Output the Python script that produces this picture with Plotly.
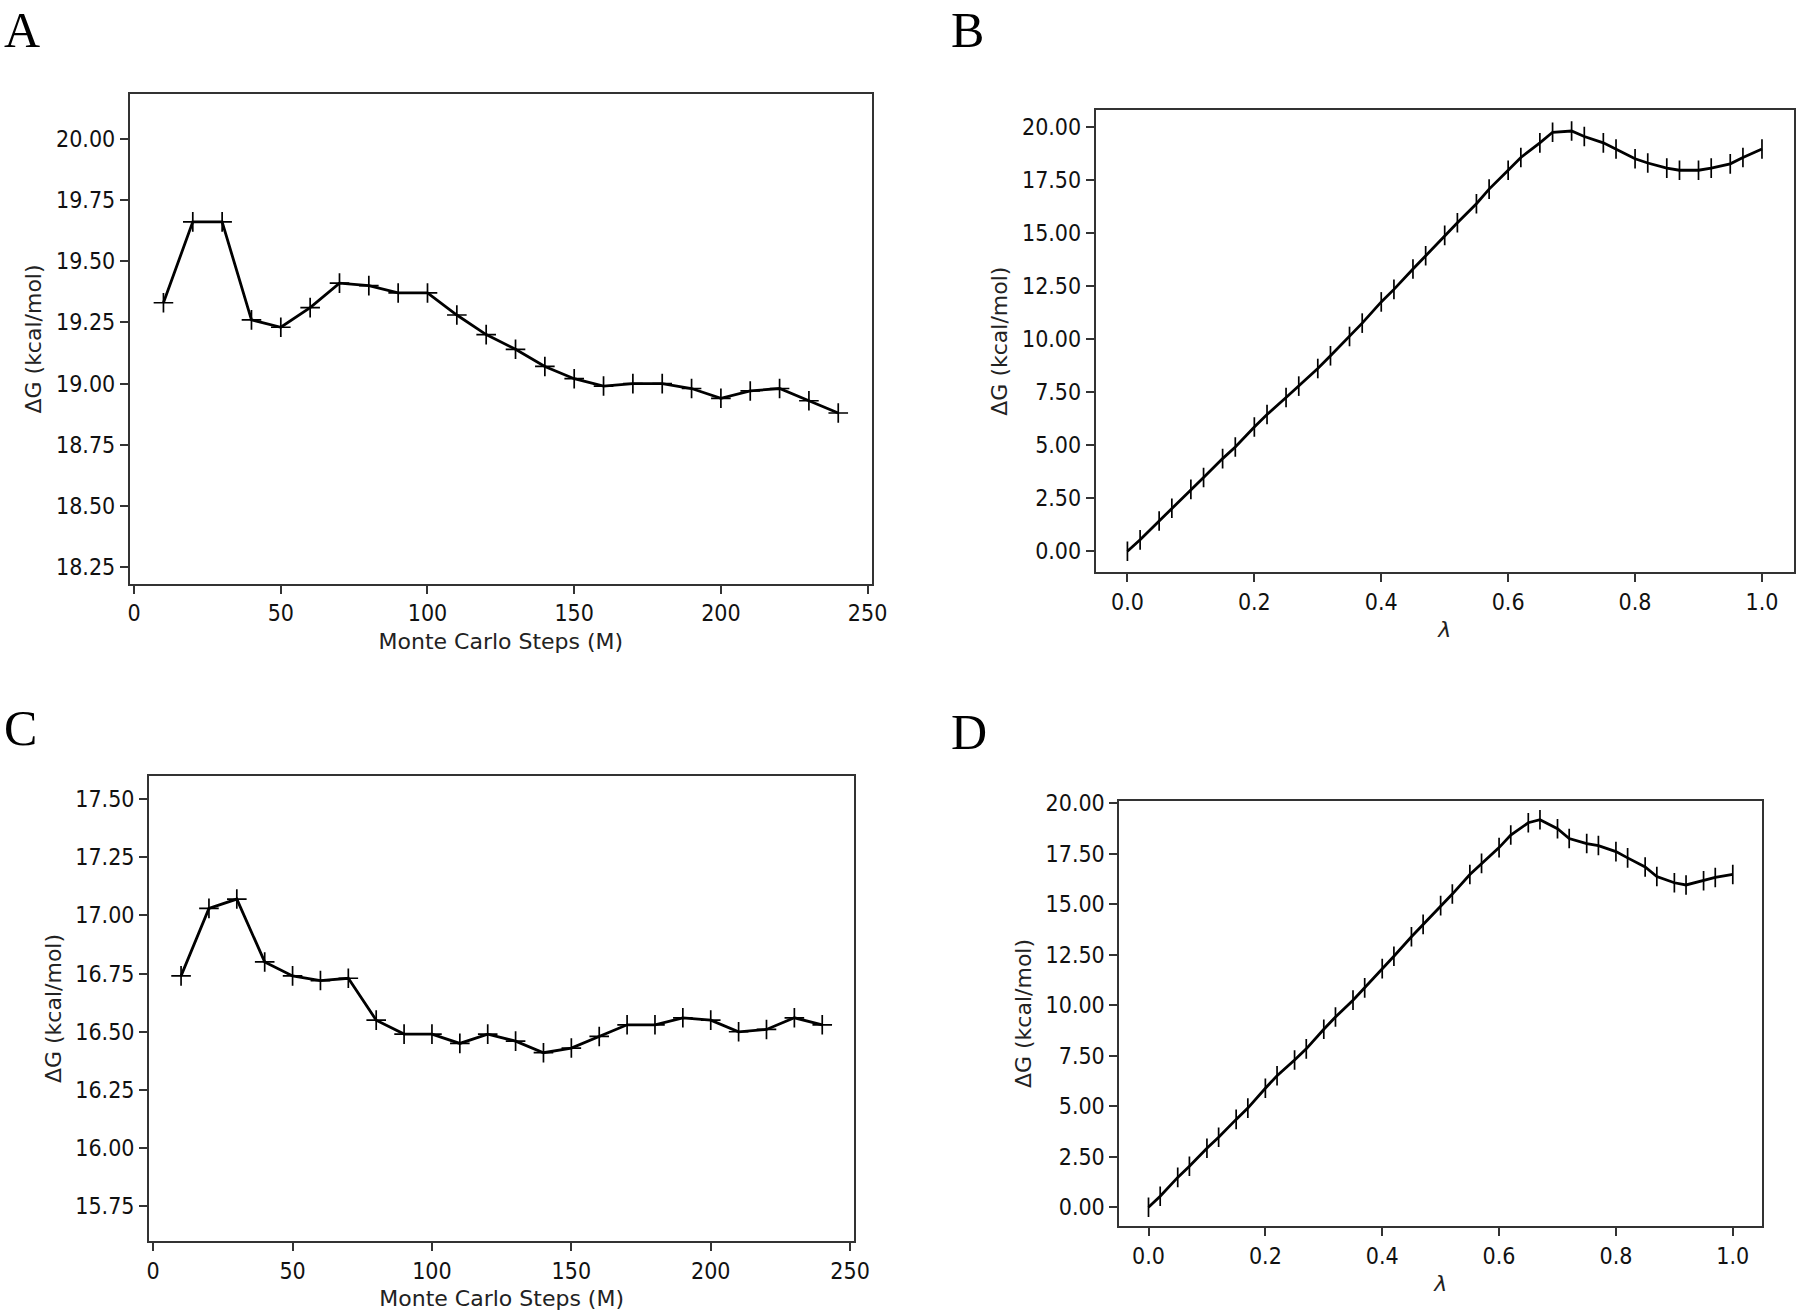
import plotly.graph_objects as go

# ---------------- data ----------------
mc_steps = [10, 20, 30, 40, 50, 60, 70, 80, 90, 100, 110, 120,
            130, 140, 150, 160, 170, 180, 190, 200, 210, 220, 230, 240]
dg_a = [19.33, 19.66, 19.66, 19.26, 19.23, 19.31, 19.41, 19.40, 19.37, 19.37, 19.28, 19.20,
        19.14, 19.07, 19.02, 18.99, 19.00, 19.00, 18.98, 18.94, 18.97, 18.98, 18.93, 18.88]
dg_c = [16.74, 17.03, 17.07, 16.80, 16.74, 16.72, 16.73, 16.55, 16.49, 16.49, 16.45, 16.49,
        16.46, 16.41, 16.43, 16.48, 16.53, 16.53, 16.56, 16.55, 16.50, 16.51, 16.56, 16.53]

lam = [0.00, 0.02, 0.05, 0.07, 0.10, 0.12, 0.15, 0.17, 0.20, 0.22, 0.25, 0.27, 0.30, 0.32,
       0.35, 0.37, 0.40, 0.42, 0.45, 0.47, 0.50, 0.52, 0.55, 0.57, 0.60, 0.62, 0.65, 0.67,
       0.70, 0.72, 0.75, 0.77, 0.80, 0.82, 0.85, 0.87, 0.90, 0.92, 0.95, 0.97, 1.00]
dg_b = [0.00, 0.54, 1.43, 2.03, 2.92, 3.48, 4.37, 4.92, 5.86, 6.45, 7.25, 7.79, 8.62, 9.22,
        10.13, 10.76, 11.76, 12.35, 13.31, 13.94, 14.90, 15.49, 16.39, 17.08, 17.97, 18.57,
        19.26, 19.76, 19.82, 19.56, 19.26, 18.97, 18.51, 18.31, 18.07, 17.97, 17.97, 18.07,
        18.27, 18.57, 18.97]
dg_d = [0.00, 0.55, 1.48, 2.03, 2.92, 3.47, 4.35, 4.91, 5.89, 6.51, 7.29, 7.84, 8.81, 9.42,
        10.25, 10.86, 11.81, 12.42, 13.39, 14.00, 14.93, 15.50, 16.47, 17.02, 17.80, 18.42,
        19.03, 19.18, 18.73, 18.25, 18.00, 17.90, 17.60, 17.29, 16.84, 16.37, 16.06, 15.95,
        16.16, 16.32, 16.47]

panel_labels = ["A", "B", "C", "D"]
y_title = "ΔG (kcal/mol)"
x_title_mc = "Monte Carlo Steps (M)"
x_title_lam = "<i>λ</i>"

# ---------------- layout ----------------
TICKFONT = dict(family="DejaVu Sans Condensed, Liberation Sans Narrow, DejaVu Sans", size=23, color="#111")
TITLEFONT = dict(family="DejaVu Sans", size=22, color="#222")

fig = go.Figure()

panels = [
    ("1", mc_steps, dg_a, "cross-thin-open", [0.07206, 0.48444], [0.55488, 0.92835], [-1.5, 251.5], [18.182, 20.182],
     dict(tick0=0, dtick=50), dict(tick0=18.25, dtick=0.25), "", x_title_mc),
    ("2", lam, dg_b, "line-ns-open", [0.60872, 0.99650], [0.56380, 0.91616], [-0.05, 1.05], [-0.99, 20.81],
     dict(tick0=0, dtick=0.2), dict(tick0=0, dtick=2.5), ".1f", x_title_lam),
    ("3", mc_steps, dg_c, "cross-thin-open", [0.08278, 0.47461], [0.05389, 0.40877], [-1.5, 251.5], [15.6, 17.6],
     dict(tick0=0, dtick=50), dict(tick0=15.75, dtick=0.25), "", x_title_mc),
    ("4", lam, dg_d, "line-ns-open", [0.62183, 0.97889], [0.06532, 0.38971], [-0.05, 1.05], [-0.94, 20.12],
     dict(tick0=0, dtick=0.2), dict(tick0=0, dtick=2.5), ".1f", x_title_lam),
]

for (n, xs, ys, sym, xd, yd, xr, yr, xt, yt, xfmt, xtitle) in panels:
    xa = "x" if n == "1" else "x" + n
    ya = "y" if n == "1" else "y" + n
    fig.add_trace(go.Scatter(
        x=xs, y=ys, xaxis=xa, yaxis=ya, mode="lines+markers",
        line=dict(color="black", width=2.8),
        marker=dict(symbol=sym, size=14, color="black", line=dict(color="black", width=1.7)),
        showlegend=False,
    ))
    axis_common = dict(showline=True, linecolor="#333", linewidth=1.8, mirror=True,
                       ticks="outside", ticklen=8, tickwidth=1.6, tickcolor="#333",
                       showgrid=False, zeroline=False, tickfont=TICKFONT, automargin=False)
    fig.layout["xaxis" + ("" if n == "1" else n)] = dict(
        domain=xd, range=xr, anchor=ya, tickmode="linear", tickformat=xfmt,
        title=dict(text=xtitle, font=TITLEFONT, standoff=8), **xt, **axis_common)
    fig.layout["yaxis" + ("" if n == "1" else n)] = dict(
        domain=yd, range=yr, anchor=xa, tickmode="linear", tickformat=".2f",
        title=dict(text=y_title, font=TITLEFONT, standoff=8), **yt, **axis_common)

letter_pos = [(0.001, 1.0 - 0 / 1312), (0.527, 1.0 - 0 / 1312), (0.001, 1.0 - 698 / 1312), (0.527, 1.0 - 702 / 1312)]
for lab, (px, py) in zip(panel_labels, letter_pos):
    fig.add_annotation(text=lab, x=px, y=py, xref="paper", yref="paper", xanchor="left", yanchor="top",
                       showarrow=False, font=dict(family="Liberation Serif, Times New Roman, serif", size=50, color="black"))

fig.update_layout(width=1800, height=1312, margin=dict(l=0, r=0, t=0, b=0),
                  paper_bgcolor="white", plot_bgcolor="white", template="none")

fig.write_html("out.html", config={"displayModeBar": False},
               post_script="document.body.style.margin='0px';document.body.style.overflow='hidden';")
